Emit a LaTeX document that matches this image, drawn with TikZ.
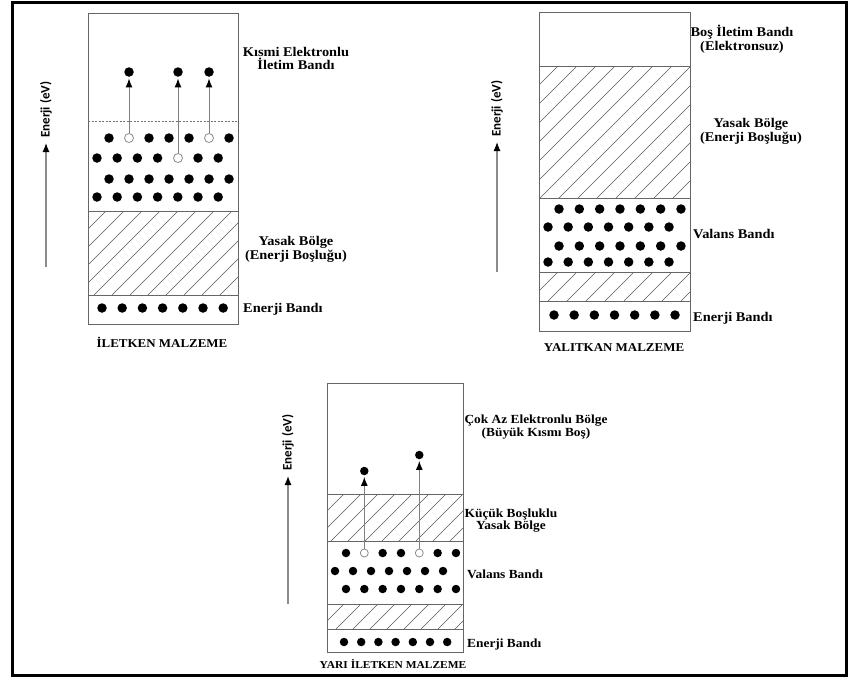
\documentclass[tikz,border=0pt]{standalone}
\usepackage{fontspec}
\setmainfont{Liberation Serif}[FakeStretch=1.08]
\newfontfamily\axisfont{Carlito}
\usetikzlibrary{arrows.meta}

\newcommand\hatchbox[5]{%
  \begin{scope}
    \clip (#1,#2) rectangle (#3,#4);
    \pgfmathsetmacro\hH{#4-#2}
    \pgfmathtruncatemacro\hN{(#3-#1+\hH)/#5+1}
    \foreach \k in {0,...,\hN} {\draw[hatchline] ({#1-\hH+\k*#5},#4) -- ({#1+\k*#5},#2);}
  \end{scope}}

\tikzset{
  elec/.style={circle, fill=black, inner sep=0pt, minimum size=9.5pt},
  hole/.style={circle, draw=black!45, fill=white, line width=0.8pt, inner sep=0pt, minimum size=9pt},
  selec/.style={elec, minimum size=8.5pt},
  shole/.style={hole, minimum size=8pt},
  boxline/.style={draw=black!60, line width=0.9pt},
  hatchline/.style={draw=black!65, line width=0.6pt},
  jump/.style={draw=black!50, line width=1pt, -{Latex[length=9pt,width=7pt,color=black]}, shorten >=1.5pt},
  axisarrow/.style={draw=black!45, line width=1.2pt, -{Latex[length=9pt,width=7pt,color=black]}},
  axislbl/.style={font=\axisfont\bfseries\fontsize{13}{13}\selectfont, rotate=90, anchor=west, inner sep=0pt},
  lbl/.style={font=\bfseries\fontsize{13.3}{13.8}\selectfont, align=center, inner sep=0pt},
  slbl/.style={font=\bfseries\fontsize{12.4}{12.8}\selectfont, align=center, inner sep=0pt},
  captxt/.style={font=\bfseries\fontsize{12}{12}\selectfont, inner sep=0pt},
  scaptxt/.style={font=\bfseries\fontsize{10.6}{11}\selectfont, inner sep=0pt},
}

\begin{document}
\begin{tikzpicture}[x=1pt, y=-1pt]
\useasboundingbox (0,0) rectangle (851,681);
\fill[white] (0,0) rectangle (851,681);
% outer frame
\draw[line width=3pt] (12,2.5) rectangle (846,675);

%% ===== Conductor =====
\hatchbox{88}{211}{238}{295}{18}
\draw[boxline] (88,13) rectangle (238,324);
\draw[boxline] (88,211) -- (238,211);
\draw[boxline] (88,295) -- (238,295);
\draw[draw=black!55, line width=0.7pt, dash pattern=on 2pt off 1.5pt] (88,121) -- (238,121);
% electrons
\foreach \k in {0,2,3,4,6} \node[elec] (ca\k) at ({109+20*\k},138) {};
\node[hole] (ch1) at (129,138) {};
\node[hole] (ch2) at (209,138) {};
\foreach \k in {0,1,2,3,5,6} \node[elec] (cb\k) at ({97+20.2*\k},158) {};
\node[hole] (ch3) at (178,158) {};
\foreach \k in {0,...,6} \node[elec] (cc\k) at ({109+20*\k},179) {};
\foreach \k in {0,...,6} \node[elec] (cd\k) at ({97+20.2*\k},197) {};
\foreach \k in {0,...,6} \node[elec] (ce\k) at ({102+20.2*\k},308) {};
\node[elec] (cu1) at (129,72) {};
\node[elec] (cu2) at (178,72) {};
\node[elec] (cu3) at (209,72) {};
\draw[jump] (ch1) -- (cu1);
\draw[jump] (ch3) -- (cu2);
\draw[jump] (ch2) -- (cu3);
% axis
\coordinate (cax0) at (46,267);
\coordinate (cax1) at (46,143);
\draw[axisarrow] (cax0) -- (cax1);
\node[axislbl] (caxl) at (46,138) {Enerji (eV)};
% labels
\node[lbl] (cl1) at (296,58.5) {Kısmi Elektronlu\\İletim Bandı};
\node[lbl] (cl2) at (296,249.5) {Yasak Bölge\\(Enerji Boşluğu)};
\node[lbl, anchor=west] (cl3) at (243,309.5) {Enerji Bandı};
\node[captxt] (cl4) at (162,342) {İLETKEN MALZEME};

%% ===== Insulator =====
\hatchbox{539}{66}{690}{198}{19}
\hatchbox{539}{272}{690}{301}{19}
\draw[boxline] (539,12) rectangle (690,331);
\draw[boxline] (539,66) -- (690,66);
\draw[boxline] (539,198) -- (690,198);
\draw[boxline] (539,272) -- (690,272);
\draw[boxline] (539,301) -- (690,301);
\foreach \k in {0,...,6} \node[elec] (ia\k) at ({559+20.33*\k},209) {};
\foreach \k in {0,...,6} \node[elec] (ib\k) at ({548+20.17*\k},227) {};
\foreach \k in {0,...,6} \node[elec] (ic\k) at ({559+20.33*\k},246) {};
\foreach \k in {0,...,6} \node[elec] (id\k) at ({548+20.17*\k},262) {};
\foreach \k in {0,...,6} \node[elec] (ie\k) at ({554+20.17*\k},315) {};
\coordinate (iax0) at (497,272);
\coordinate (iax1) at (497,142);
\draw[axisarrow] (iax0) -- (iax1);
\node[axislbl] (iaxl) at (497,137) {Enerji (eV)};
\node[lbl] (il1) at (742,39.5) {Boş İletim Bandı\\(Elektronsuz)};
\node[lbl] (il2) at (751,131) {Yasak Bölge\\(Enerji Boşluğu)};
\node[lbl, anchor=west] (il3) at (693,234) {Valans Bandı};
\node[lbl, anchor=west] (il4) at (693,318) {Enerji Bandı};
\node[captxt] (il5) at (614,348) {YALITKAN MALZEME};

%% ===== Semiconductor =====
\hatchbox{327}{494}{463}{541}{17}
\hatchbox{327}{604}{463}{629}{17}
\draw[boxline] (327,383) rectangle (463,652);
\draw[boxline] (327,494) -- (463,494);
\draw[boxline] (327,541) -- (463,541);
\draw[boxline] (327,604) -- (463,604);
\draw[boxline] (327,629) -- (463,629);
\foreach \k in {0,2,3,5,6} \node[selec] (sa\k) at ({346+18.33*\k},553) {};
\node[shole] (sh1) at (364.3,553) {};
\node[shole] (sh2) at (419.3,553) {};
\foreach \k in {0,...,6} \node[selec] (sb\k) at ({335+18*\k},571) {};
\foreach \k in {0,...,6} \node[selec] (sc\k) at ({346+18.33*\k},589) {};
\foreach \k in {0,...,6} \node[selec] (se\k) at ({344+17.2*\k},642) {};
\node[selec] (su1) at (364.3,471) {};
\node[selec] (su2) at (419.3,455) {};
\draw[jump] (sh1) -- (su1);
\draw[jump] (sh2) -- (su2);
\coordinate (sax0) at (288,604);
\coordinate (sax1) at (288,476);
\draw[axisarrow] (sax0) -- (sax1);
\node[axislbl] (saxl) at (288,471) {Enerji (eV)};
\node[slbl] (sl1) at (536,427) {Çok Az Elektronlu Bölge\\(Büyük Kısmı Boş)};
\node[slbl] (sl2) at (511,520.5) {Küçük Boşluklu\\Yasak Bölge};
\node[slbl, anchor=west] (sl3) at (467,574) {Valans Bandı};
\node[slbl, anchor=west] (sl4) at (467,645) {Enerji Bandı};
\node[scaptxt] (sl5) at (393,664) {YARI İLETKEN MALZEME};
\end{tikzpicture}
\end{document}
